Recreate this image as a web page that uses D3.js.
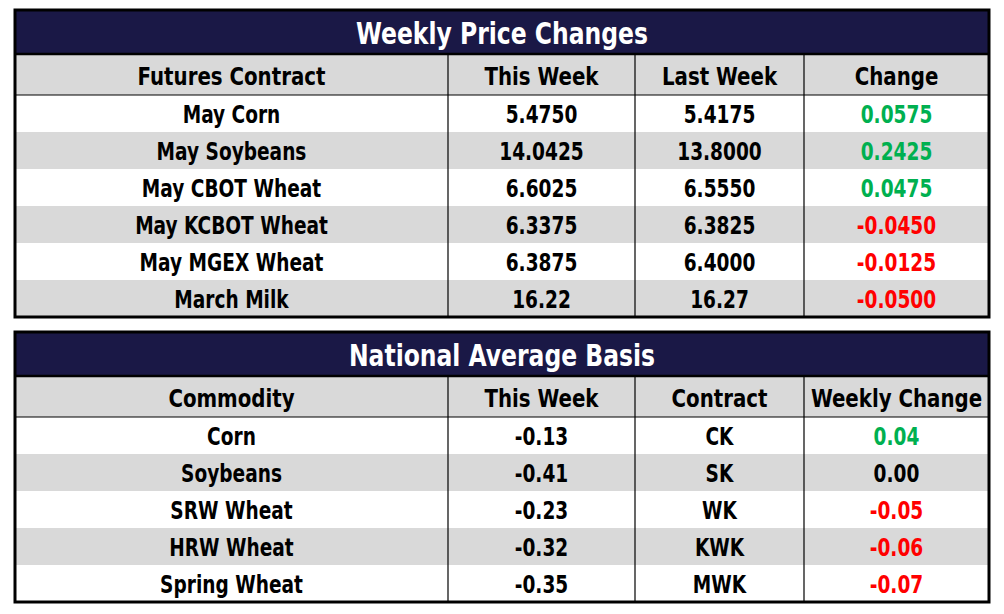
<!DOCTYPE html>
<html><head><meta charset="utf-8">
<script src="https://cdn.jsdelivr.net/npm/d3@7"></script>
<style>
body{margin:0;background:#fff;}
svg{display:block;}
text{font-family:"DejaVu Sans Condensed","DejaVu Sans",sans-serif;font-weight:bold;}
</style></head>
<body><svg id="c" width="1004" height="614"></svg>
<script>
// ---- data ----
const priceTitle = "Weekly Price Changes";
const priceHeaders = ["Futures Contract","This Week","Last Week","Change"];
const priceContracts = ["May Corn","May Soybeans","May CBOT Wheat","May KCBOT Wheat","May MGEX Wheat","March Milk"];
const priceThisWeek = ["5.4750","14.0425","6.6025","6.3375","6.3875","16.22"];
const priceLastWeek = ["5.4175","13.8000","6.5550","6.3825","6.4000","16.27"];
const priceChange = [0.0575,0.2425,0.0475,-0.0450,-0.0125,-0.0500];

const basisTitle = "National Average Basis";
const basisHeaders = ["Commodity","This Week","Contract","Weekly Change"];
const basisCommodities = ["Corn","Soybeans","SRW Wheat","HRW Wheat","Spring Wheat"];
const basisThisWeek = ["-0.13","-0.41","-0.23","-0.32","-0.35"];
const basisContracts = ["CK","SK","WK","KWK","MWK"];
const basisChange = [0.04,0.00,-0.05,-0.06,-0.07];

// ---- layout ----
const svg = d3.select("#c");
const navy = "#1a1846", gray = "#d9d9d9", green = "#00b050", red = "#ff0000";
const colEdges = [15,448,635,804,989];
const x = d3.scaleOrdinal().domain([0,1,2,3]).range(colEdges.slice(0,4));
const xw = i => colEdges[i+1]-colEdges[i];

function label(g, cx, cy, txt, size, sx, fill){
  g.append("text").attr("transform",`translate(${cx},${cy}) scale(${sx},1)`)
    .attr("dy","0.36em").attr("text-anchor","middle").attr("font-size",size).attr("fill",fill).text(txt);
}

function drawTable(top, title, headers, rows, changes){
  const g = svg.append("g");
  const titleH = 44, headH = 41, rowH = 37;
  const y = d3.scaleBand().domain(d3.range(rows.length)).range([top+titleH+headH, top+titleH+headH+rowH*rows.length]);
  const bottom = y.range()[1];
  // title
  g.append("rect").attr("x",colEdges[0]).attr("y",top).attr("width",colEdges[4]-colEdges[0]).attr("height",titleH).attr("fill",navy);
  label(g,(colEdges[0]+colEdges[4])/2, top+titleH/2+1, title, 30, 0.87, "#fff");
  // header
  g.append("rect").attr("x",colEdges[0]).attr("y",top+titleH).attr("width",colEdges[4]-colEdges[0]).attr("height",headH).attr("fill",gray);
  headers.forEach((h,i)=>label(g, x(i)+xw(i)/2, top+titleH+headH/2+1, h, 25, 0.88, "#000"));
  // rows
  g.selectAll("rect.r").data(rows).join("rect").attr("class","r")
    .attr("x",colEdges[0]).attr("y",(d,i)=>y(i)).attr("width",colEdges[4]-colEdges[0]).attr("height",y.bandwidth())
    .attr("fill",(d,i)=>i%2?gray:"#fff");
  rows.forEach((r,i)=>{
    r.forEach((c,j)=>{
      let fill="#000";
      if(j===3){ const v=changes[i]; fill = v>0?green:(v<0?red:"#000"); }
      label(g, x(j)+xw(j)/2, y(i)+y.bandwidth()/2+1, c, 24, 0.86, fill);
    });
  });
  // lines
  g.append("line").attr("x1",colEdges[0]).attr("x2",colEdges[4]).attr("y1",top+titleH).attr("y2",top+titleH).attr("stroke","#000").attr("stroke-width",2.5);
  g.append("line").attr("x1",colEdges[0]).attr("x2",colEdges[4]).attr("y1",top+titleH+headH).attr("y2",top+titleH+headH).attr("stroke","#000").attr("stroke-width",1.2);
  [1,2,3].forEach(i=>{
    g.append("line").attr("x1",colEdges[i]).attr("x2",colEdges[i]).attr("y1",top+titleH).attr("y2",bottom).attr("stroke","#000").attr("stroke-width",1.2);
  });
  g.append("rect").attr("x",colEdges[0]).attr("y",top).attr("width",colEdges[4]-colEdges[0]).attr("height",bottom-top)
    .attr("fill","none").attr("stroke","#000").attr("stroke-width",3);
}

const fmt4 = v => v.toFixed(4);
const fmt2 = v => v.toFixed(2);
drawTable(10, priceTitle, priceHeaders,
  priceContracts.map((c,i)=>[c,priceThisWeek[i],priceLastWeek[i],fmt4(priceChange[i])]), priceChange);
drawTable(332, basisTitle, basisHeaders,
  basisCommodities.map((c,i)=>[c,basisThisWeek[i],basisContracts[i],fmt2(basisChange[i])]), basisChange);
</script></body></html>
